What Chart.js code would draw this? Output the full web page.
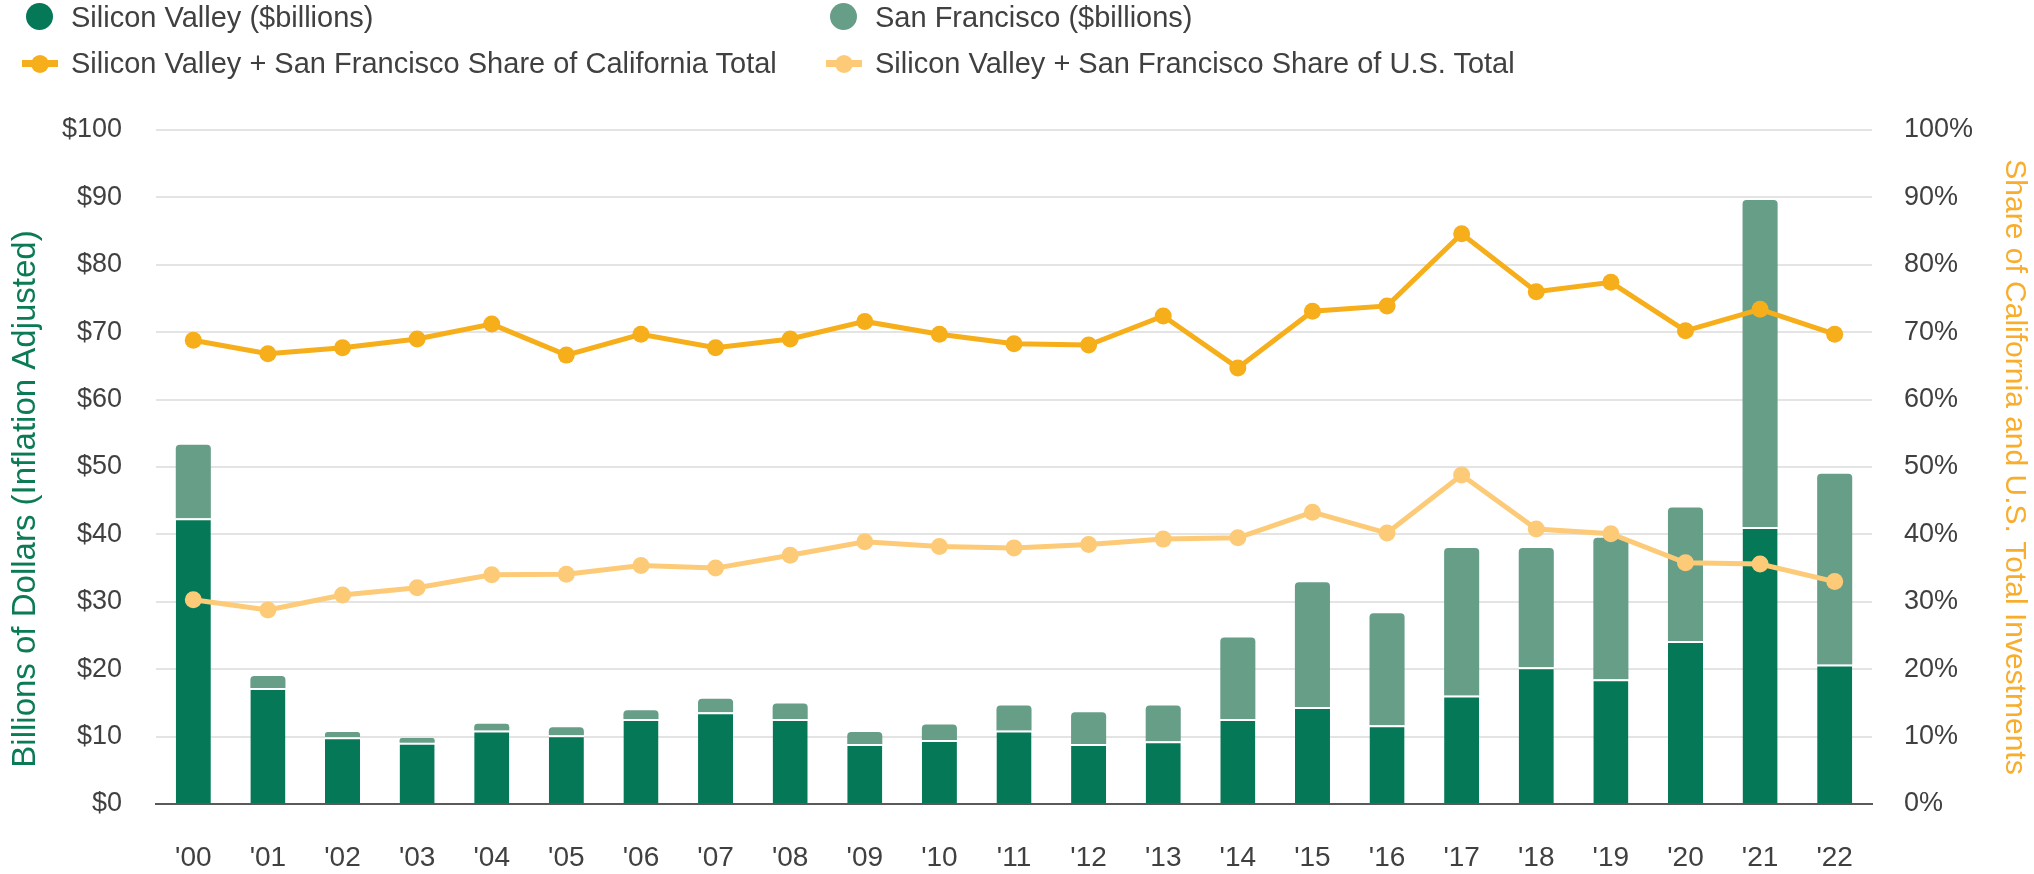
<!DOCTYPE html>
<html>
<head>
<meta charset="utf-8">
<script src="https://cdn.jsdelivr.net/npm/chart.js@4.4.1/dist/chart.umd.min.js"></script>
<style>
  body { margin: 0; background: #fff; font-family: "Liberation Sans", Arial, sans-serif; }
  #wrap { position: relative; width: 2034px; height: 874px; }
  #chart { position: absolute; left: 0; top: 0; }
  .item { position: absolute; height: 34px; line-height: 34px; font-size: 29px; color: #404040; white-space: nowrap; }
  .dot { position: absolute; width: 27px; height: 27px; border-radius: 50%; left: -45px; top: 3px; }
  .line { position: absolute; width: 36px; height: 7px; left: -49px; top: 14px; }
  .line::after { content: ""; position: absolute; width: 18px; height: 18px; border-radius: 50%; left: 9px; top: -5.5px; background: inherit; }
</style>
</head>
<body>
<div id="wrap">
  <canvas id="chart" width="2034" height="874"></canvas>
  <div id="legend"></div>
</div>
<script>
const years = ["'00", "'01", "'02", "'03", "'04", "'05", "'06", "'07", "'08", "'09", "'10", "'11",
               "'12", "'13", "'14", "'15", "'16", "'17", "'18", "'19", "'20", "'21", "'22"];

// $billions, inflation adjusted
const siliconValley = [42.4, 17.2, 9.9, 9.1, 10.9, 10.2, 12.6, 13.6, 12.6, 8.9, 9.5, 10.9,
                       8.9, 9.3, 12.6, 14.4, 11.7, 16.1, 20.3, 18.5, 24.2, 41.1, 20.7];
const sanFrancisco = [10.9, 1.8, 0.8, 0.7, 1.0, 1.2, 1.3, 2.0, 2.3, 1.8, 2.3, 3.7,
                      4.7, 5.3, 12.1, 18.5, 16.6, 21.9, 17.7, 21.0, 19.8, 48.5, 28.3];

// percent
const caShare = [68.8, 66.8, 67.7, 69.0, 71.2, 66.6, 69.7, 67.7, 69.0, 71.6, 69.7, 68.3,
                 68.1, 72.4, 64.7, 73.1, 73.9, 84.6, 76.0, 77.4, 70.2, 73.4, 69.7];
const usShare = [30.3, 28.8, 31.0, 32.1, 34.0, 34.1, 35.4, 35.0, 36.9, 38.9, 38.2, 38.0,
                 38.5, 39.3, 39.5, 43.3, 40.2, 48.8, 40.8, 40.1, 35.8, 35.6, 33.0];

const leftTicks = [0, 10, 20, 30, 40, 50, 60, 70, 80, 90, 100];

const colors = {
    sv: '#047857',
    sf: '#679e88',
    ca: '#f6ae1a',
    us: '#fdcb78',
    grid: '#e4e4e4',
    text: '#404040'
};

const fontFamily = '"Liberation Sans", Arial, sans-serif';

// legend (two columns, left aligned)
const legendItems = [
    { label: 'Silicon Valley ($billions)', color: colors.sv, kind: 'dot', x: 71, y: 0 },
    { label: 'San Francisco ($billions)', color: colors.sf, kind: 'dot', x: 875, y: 0 },
    { label: 'Silicon Valley + San Francisco Share of California Total', color: colors.ca, kind: 'line', x: 71, y: 46 },
    { label: 'Silicon Valley + San Francisco Share of U.S. Total', color: colors.us, kind: 'line', x: 875, y: 46 }
];
const legend = document.getElementById('legend');
legendItems.forEach(it => {
    const el = document.createElement('div');
    el.className = 'item';
    el.style.left = it.x + 'px';
    el.style.top = it.y + 'px';
    const mark = document.createElement('span');
    mark.className = it.kind;
    mark.style.background = it.color;
    el.appendChild(mark);
    el.appendChild(document.createTextNode(it.label));
    legend.appendChild(el);
});

// left axis title sits a bit below the middle of the axis in the original
const leftTitle = {
    id: 'leftTitle',
    afterDraw(chart) {
        const c = chart.ctx;
        c.save();
        c.font = '33px ' + fontFamily;
        c.fillStyle = '#0b7a56';
        c.textAlign = 'center';
        c.textBaseline = 'middle';
        c.translate(26, 499);
        c.rotate(-Math.PI / 2);
        c.fillText('Billions of Dollars (Inflation Adjusted)', 0, 0);
        c.restore();
    }
};

const ctx = document.getElementById('chart').getContext('2d');
const chart = new Chart(ctx, {
    data: {
        labels: years,
        datasets: [
            {
                type: 'line',
                label: 'Silicon Valley + San Francisco Share of California Total',
                data: caShare,
                yAxisID: 'y1',
                borderColor: colors.ca,
                backgroundColor: colors.ca,
                borderWidth: 5,
                pointRadius: 8.5,
                pointBorderWidth: 0,
                tension: 0,
                order: 0
            },
            {
                type: 'line',
                label: 'Silicon Valley + San Francisco Share of U.S. Total',
                data: usShare,
                yAxisID: 'y1',
                borderColor: colors.us,
                backgroundColor: colors.us,
                borderWidth: 5,
                pointRadius: 8.5,
                pointBorderWidth: 0,
                tension: 0,
                order: 0
            },
            {
                type: 'bar',
                label: 'Silicon Valley ($billions)',
                data: siliconValley,
                yAxisID: 'y',
                backgroundColor: colors.sv,
                borderColor: '#ffffff',
                borderWidth: { top: 2, left: 0, right: 0, bottom: 0 },
                borderSkipped: false,
                barPercentage: 0.47,
                categoryPercentage: 1,
                stack: 'total',
                order: 1
            },
            {
                type: 'bar',
                label: 'San Francisco ($billions)',
                data: sanFrancisco,
                yAxisID: 'y',
                backgroundColor: colors.sf,
                borderRadius: { topLeft: 4, topRight: 4, bottomLeft: 0, bottomRight: 0 },
                borderSkipped: 'bottom',
                barPercentage: 0.47,
                categoryPercentage: 1,
                stack: 'total',
                order: 1
            }
        ]
    },
    options: {
        responsive: false,
        animation: false,
        devicePixelRatio: 1,
        layout: { padding: { top: 130, left: 0, right: 0, bottom: 0 } },
        plugins: {
            legend: { display: false },
            tooltip: { enabled: false }
        },
        scales: {
            x: {
                stacked: true,
                grid: { display: false, drawTicks: false },
                border: { color: '#5a5a5a', width: 2 },
                ticks: {
                    color: colors.text,
                    font: { family: fontFamily, size: 28 },
                    padding: 37,
                    maxRotation: 0
                },
                afterFit: s => { s.height = 70; }
            },
            y: {
                position: 'left',
                stacked: true,
                min: 0,
                max: 100,
                afterBuildTicks: s => { s.ticks = leftTicks.map(v => ({ value: v })); },
                grid: { color: colors.grid, lineWidth: 2, drawTicks: false },
                border: { display: false },
                ticks: {
                    color: colors.text,
                    font: { family: fontFamily, size: 27 },
                    padding: 34,
                    callback: v => '$' + v
                },
                afterFit: s => { s.width = 156; }
            },
            y1: {
                position: 'right',
                min: 0,
                max: 100,
                afterBuildTicks: s => { s.ticks = leftTicks.map(v => ({ value: v })); },
                grid: { display: false, drawTicks: false },
                border: { display: false },
                ticks: {
                    color: colors.text,
                    font: { family: fontFamily, size: 27 },
                    padding: 32,
                    callback: v => v + '%'
                },
                title: {
                    display: true,
                    text: 'Share of California and U.S. Total Investments',
                    color: '#f8ad2c',
                    font: { family: fontFamily, size: 30 },
                    padding: { top: 2, bottom: 0 }
                },
                afterFit: s => { s.width = 162; }
            }
        }
    },
    plugins: [leftTitle]
});
</script>
</body>
</html>
